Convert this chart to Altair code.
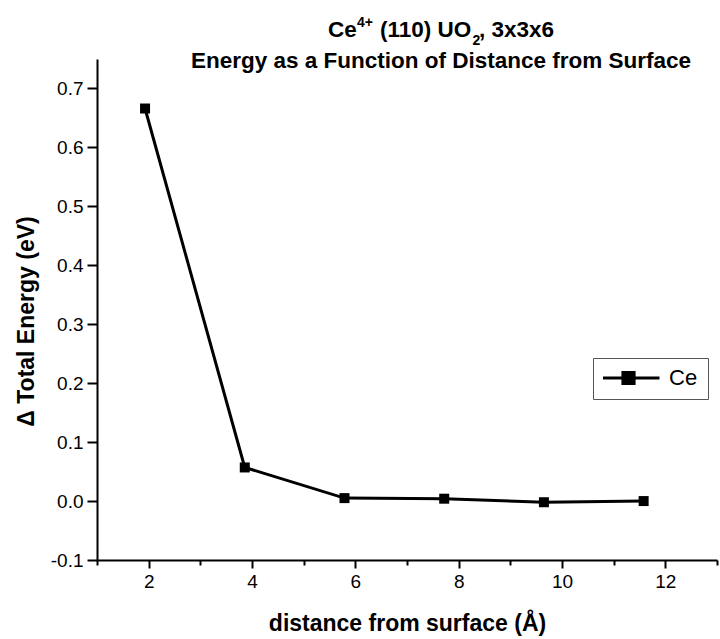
import altair as alt
import pandas as pd

# ---- data ----
distance = [1.93, 3.86, 5.79, 7.72, 9.65, 11.58]
energy = [0.666, 0.057, 0.005, 0.004, -0.002, 0.000]
series = ["Ce", "Ce", "Ce", "Ce", "Ce", "Ce"]

x_tick_values = [1, 2, 3, 4, 5, 6, 7, 8, 9, 10, 11, 12, 13]
y_tick_values = [-0.1, -0.05, 0.0, 0.05, 0.1, 0.15, 0.2, 0.25, 0.3, 0.35,
                 0.4, 0.45, 0.5, 0.55, 0.6, 0.65, 0.7, 0.75]

title_line2 = "Energy as a Function of Distance from Surface"
x_title = "distance from surface (Å)"
y_title = "Δ Total Energy (eV)"

FONT = "Liberation Sans"

df = pd.DataFrame({"distance": distance, "energy": energy, "series": series})

x_scale = alt.Scale(domain=[1, 13], nice=False, zero=False)
y_scale = alt.Scale(domain=[-0.1, 0.75], nice=False, zero=False)

x_axis = alt.Axis(
    values=x_tick_values,
    labelExpr="datum.value % 2 == 0 ? datum.label : ''",
    tickSize={"condition": {"test": "datum.value % 2 == 0", "value": 8}, "value": 5},
    labelPadding=4,
    labelFont=FONT, labelFontSize=19, labelColor="black",
    title=x_title, titleFont=FONT, titleFontSize=23, titleFontWeight="bold",
    titleColor="black", titleBaseline="alphabetic", titleY=70,
    domainColor="black", domainWidth=2, tickColor="black", tickWidth=2, grid=False,
)

y_axis = alt.Axis(
    values=y_tick_values,
    labelExpr="abs(datum.value*10 - round(datum.value*10)) < 0.01 ? replace(format(datum.value, '.1f'), '\u2212', '-') : ''",
    tickSize={"condition": {"test": "abs(datum.value*10 - round(datum.value*10)) < 0.01", "value": 10}, "value": 5},
    labelPadding=4,
    labelFont=FONT, labelFontSize=19, labelColor="black",
    title=y_title, titleFont=FONT, titleFontSize=23, titleFontWeight="bold",
    titleColor="black", titleAngle=270, titleBaseline="alphabetic", titleAlign="center",
    titleX=-64, titleY=262,
    domainColor="black", domainWidth=2, tickColor="black", tickWidth=2, grid=False,
)

legend_symbol = ("M-1,0H1"
                 "M-0.18,-0.18H0.18V0.18H-0.18Z"
                 "M-0.09,-0.09H0.09V0.09H-0.09Z")

base = alt.Chart(df)

line = base.mark_line(color="black", strokeWidth=3).encode(
    x=alt.X("distance:Q", scale=x_scale, axis=x_axis),
    y=alt.Y("energy:Q", scale=y_scale, axis=y_axis),
    color=alt.Color(
        "series:N",
        scale=alt.Scale(range=["black"]),
        legend=alt.Legend(
            title=None,
            orient="none", legendX=496, legendY=299,
            symbolType=legend_symbol, symbolSize=3844,
            symbolStrokeWidth=3, symbolStrokeColor="black", symbolFillColor="black",
            symbolOffset=-7,
            clipHeight=20,
            labelFont=FONT, labelFontSize=22, labelColor="black", labelOffset=8,
            padding=10, strokeColor="#555555", fillColor="white",
        ),
    ),
)

points = base.mark_point(shape="square", filled=True, size=100, color="black", opacity=1).encode(
    x=alt.X("distance:Q", scale=x_scale),
    y=alt.Y("energy:Q", scale=y_scale),
)

def text_layer(txt, x, y, size, align="left"):
    return alt.Chart(pd.DataFrame({"t": [txt]})).mark_text(
        font=FONT, fontSize=size, fontWeight="bold", color="black",
        align=align, baseline="alphabetic",
    ).encode(text="t:N", x=alt.value(x), y=alt.value(y))

title_layers = [
    text_layer("Ce", 231, -22, 22.5),
    text_layer("4+", 260, -32.5, 14),
    text_layer("(110) UO", 283, -22, 22.5),
    text_layer("2", 375.5, -14, 14),
    text_layer(", 3x3x6", 382, -22, 22.5),
    text_layer(title_line2, 344, 9, 22.5, align="center"),
]

chart = alt.layer(line, points, *title_layers).properties(
    width=620, height=501,
    padding={"left": 97, "top": 59, "right": 3, "bottom": 79},
    autosize=alt.AutoSizeParams(type="none"),
    background="white",
).configure_view(stroke=None)

chart.save("out.html", embed_options={"renderer": "svg", "actions": False})
